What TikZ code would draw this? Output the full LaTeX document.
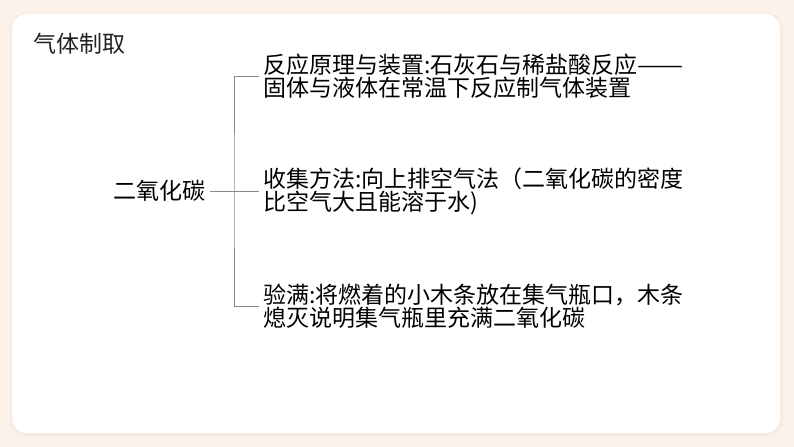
\documentclass[tikz,border=0pt]{standalone}
\usepackage{graphicx}
\usepackage{fontspec}
\newfontfamily\cjk{Noto Sans CJK SC}
\definecolor{bgpeach}{HTML}{FCF2EC}
\definecolor{shadowc}{HTML}{F3E4DA}
\definecolor{linec}{HTML}{8A8A8A}
\definecolor{titlec}{HTML}{222222}
\tikzset{
  txt/.style={inner xsep=4bp, inner ysep=0pt, anchor=west, align=left,
    font=\cjk\fontsize{23bp}{23bp}\selectfont, text=black},
  conn/.style={draw=linec, line width=0.9bp}
}
\begin{document}
\begin{tikzpicture}[x=1bp,y=-1bp]
\useasboundingbox (0,0) rectangle (794,447);
\fill[bgpeach] (0,0) rectangle (794,447);
\fill[shadowc, opacity=0.5, rounded corners=16] (10,13) rectangle (783,436);
\fill[white, rounded corners=15] (12,14) rectangle (780,433);

\node[txt, text=titlec, inner xsep=0pt] (title) at (33,44) {气体制取};
\node[txt, inner xsep=5bp] (co2) at (108,191) {二氧化碳};
\node[txt] (t1) at (259,76) {反应原理与装置:石灰石与稀盐酸反应\resizebox{2em}{\height}{——}\\固体与液体在常温下反应制气体装置};
\node[txt] (t2) at (259,191) {收集方法:向上排空气法（二氧化碳的密度\\比空气大且能溶于水)};
\node[txt] (t3) at (259,306) {验满:将燃着的小木条放在集气瓶口，木条\\熄灭说明集气瓶里充满二氧化碳};
\coordinate (spine) at (234,191);

\draw[conn] (t1.west) -| (spine) |- (t3.west);
\draw[conn] (co2.east) -- (t2.west);
\end{tikzpicture}
\end{document}
